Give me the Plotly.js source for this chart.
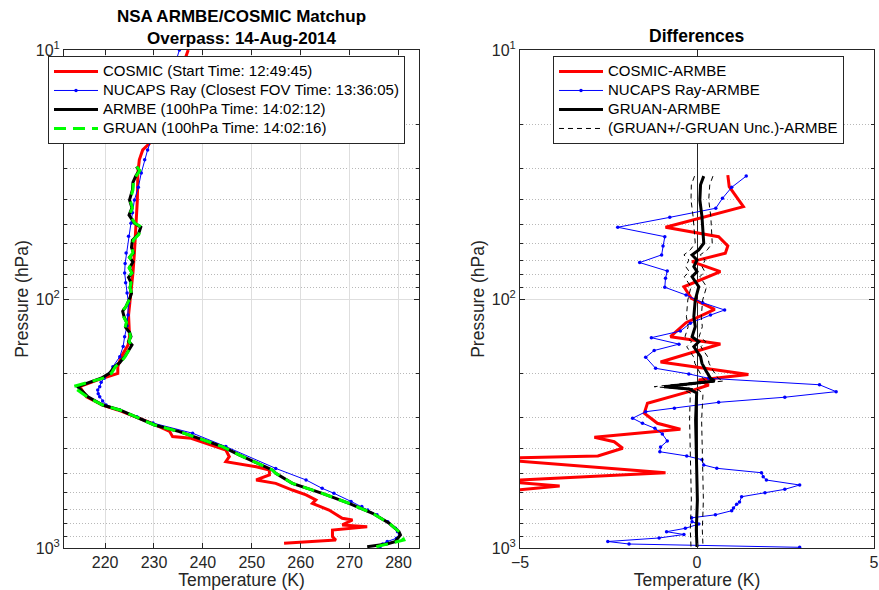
<!DOCTYPE html>
<html><head><meta charset="utf-8">
<script src="https://cdn.plot.ly/plotly-3.0.1.min.js"></script>
<style>html,body{margin:0;padding:0;background:#fff}#chart{width:879px;height:590px}</style>
</head><body><div id="chart"></div>
<script>
// ---------- Left panel: temperature profiles (K) vs pressure (hPa) ----------
const cosmicP = [10, 20.3, 23.0, 25.2, 27.6, 31.2, 40.0, 49.6, 65.3, 78.6, 94.5, 116, 141.7, 153, 170.5, 187, 198.8, 208, 225, 247, 266.6, 279, 315, 340, 357, 362.6, 404, 430, 450, 471.6, 486, 509, 533, 550, 585, 612, 641, 662, 704, 760, 772, 808, 821, 847, 901, 929, 957];
const cosmicT = [237.0, 231.5, 229.8, 227.7, 227.0, 226.7, 226.6, 226.4, 226.0, 225.7, 225.3, 224.8, 225.0, 224.7, 223.3, 222.6, 222.6, 219.5, 214.8, 216.2, 219.5, 222.6, 229.5, 233.2, 233.8, 237.6, 244.7, 245.4, 244.7, 250.9, 253.6, 253.6, 250.9, 254.9, 258.3, 261.1, 263.1, 262.4, 265.8, 268.5, 270.6, 268.5, 273.6, 266.5, 266.5, 267.2, 256.6];

const nucapsP = [10, 20.3, 23.0, 25.2, 27.6, 31.2, 35.6, 40, 45, 49.6, 56, 65.3, 72, 78.6, 86, 94.5, 104, 116, 128, 141.7, 155, 170.5, 187, 198.8, 208, 216, 225, 232, 240, 247, 257, 266.6, 279, 297, 315, 346, 391.6, 479, 533, 576, 603, 650, 682, 704, 736, 784, 834, 860, 886, 914, 942, 964, 994];
const nucapsT = [235.2, 230.4, 229.4, 228.7, 228.1, 227.4, 226.8, 226.0, 225.6, 225.3, 224.8, 224.3, 224.1, 224.0, 224.2, 224.5, 224.8, 224.7, 224.5, 224.0, 223.7, 223.0, 221.6, 220.9, 219.8, 219.2, 218.9, 218.5, 218.6, 218.9, 219.5, 220.2, 223.0, 226.5, 229.8, 237.9, 244.7, 254.9, 261.1, 264.4, 266.8, 270.3, 272.5, 273.7, 275.6, 277.8, 279.4, 279.8, 280.2, 279.6, 277.7, 276.8, 276.2];

const armbeP = [29.4, 30.5, 32.0, 34.0, 36.5, 40.0, 43.0, 46.0, 49.6, 51.5, 55.0, 58.0, 62.0, 65.3, 68.0, 71.0, 75.0, 78.6, 82.0, 86.0, 90.0, 95.0, 100, 107, 112, 118, 124, 130, 136, 141.7, 148, 153, 160, 170.5, 180, 187, 198.8, 208, 225, 247, 266.6, 279, 320.6, 341, 391.6, 423, 486, 501, 550, 603, 662, 725.5, 795.6, 860, 886.6, 943, 964, 988];
const armbeT = [226.4, 227.0, 226.3, 225.7, 225.6, 225.0, 225.5, 224.9, 226.0, 227.3, 226.8, 225.6, 225.4, 225.8, 225.0, 225.7, 225.0, 225.5, 224.8, 225.3, 225.1, 225.4, 225.0, 224.3, 223.6, 223.9, 224.4, 224.2, 225.0, 225.3, 224.8, 225.5, 224.9, 224.0, 223.0, 221.9, 220.9, 219.2, 214.4, 216.5, 219.5, 223.0, 230.1, 235.2, 244.0, 247.4, 254.2, 254.9, 258.3, 264.4, 269.9, 274.7, 278.1, 280.1, 280.4, 279.3, 277.6, 273.6];

const gruanP = [29.4, 30.5, 32.0, 34.0, 36.5, 40.0, 43.0, 46.0, 49.6, 51.5, 55.0, 58.0, 62.0, 65.3, 68.0, 71.0, 75.0, 78.6, 82.0, 86.0, 90.0, 95.0, 100, 107, 112, 118, 124, 130, 136, 141.7, 148, 153, 160, 170.5, 180, 187, 198.8, 208, 225, 247, 266.6, 279, 320.6, 341, 391.6, 423, 486, 501, 550, 603, 662, 725.5, 795.6, 860, 886.6, 929, 1000];
const gruanT = [226.5, 227.1, 226.4, 225.8, 225.7, 225.1, 225.6, 225.0, 226.1, 227.5, 226.9, 225.8, 225.5, 225.7, 225.0, 225.6, 224.9, 225.5, 224.7, 225.3, 225.1, 225.4, 225.0, 224.3, 223.5, 223.8, 224.4, 224.1, 225.0, 225.2, 224.9, 225.4, 224.9, 224.1, 223.1, 222.1, 221.3, 219.6, 213.4, 216.3, 219.5, 223.0, 230.1, 235.2, 244.0, 247.4, 254.2, 254.9, 258.3, 264.4, 269.9, 274.7, 278.1, 280.1, 280.6, 281.1, 274.4];

// ---------- Right panel: differences (K) vs pressure (hPa) ----------
const dCosmicP = [31.8, 35.4, 42.6, 51.5, 56.2, 61.2, 65.5, 70.8, 77.7, 89.3, 99.4, 110, 124.5, 141.7, 151.6, 179, 201, 211.4, 221.5, 235.6, 262.4, 287.7, 315.6, 333.7, 359.3, 374.2, 397.7, 427, 437, 498.5, 538.3, 563.6, 612.6];
const dCosmicT = [0.87, 0.91, 1.31, -0.89, 0.61, 0.87, 0.80, -0.14, 0.66, -0.37, -0.16, 0.50, -0.31, -0.75, 0.66, -1.03, 1.45, 0.05, 0.33, -0.23, -1.40, -1.49, -1.12, -0.47, -2.90, -2.34, -2.10, -2.80, -6.0, -0.89, -5.6, -3.88, -6.5];

const dNucapsP = [32.1, 35.6, 39.4, 43.2, 47.0, 51.5, 56.2, 61.2, 66.5, 71.4, 77.2, 82.6, 89.7, 96.4, 103.5, 110.7, 116, 125, 134.5, 143, 151.8, 161, 171.4, 189.8, 200, 208.2, 221, 235.6, 248, 260, 274.8, 283.6, 301.3, 315.6, 330.6, 348.4, 371.8, 393, 410.6, 427, 441.9, 464.3, 478.6, 498.5, 517, 533.3, 558.5, 581.2, 599.8, 622.3, 653.6, 667.6, 691, 708.5, 735.8, 756.3, 784.2, 801, 833.6, 860, 882.6, 911.5, 941.7, 963.9, 993.6];
const dNucapsT = [1.39, 0.98, 0.72, 0.53, -0.77, -2.24, -0.91, -0.96, -1.00, -1.62, -0.84, -0.89, -0.91, -0.31, 0.16, 0.78, 0.38, -0.19, -0.47, -1.29, -0.51, -1.21, -1.45, -1.17, -0.23, 0.33, 3.46, 3.93, 2.48, 0.61, -0.64, -1.45, -1.82, -1.54, -1.19, -0.98, -0.84, -1.03, -1.05, -0.29, 0.14, 0.19, 0.56, 1.82, 1.87, 1.96, 2.90, 2.48, 1.92, 1.26, 1.20, 1.12, 1.03, 0.98, 0.52, -0.15, -0.14, 0.05, -0.33, -0.86, -0.37, -1.07, -2.52, -1.92, 2.90];

const dGruanP = [32.1, 34.8, 40, 46.7, 59.7, 63.5, 66.5, 69.7, 74.1, 77.6, 81.4, 89.3, 100.9, 117.8, 129.2, 141.7, 148.4, 155.5, 170.5, 181.3, 192.8, 208.2, 213.4, 225, 229.8, 238.5, 306.2, 443.2, 641.5, 847, 991];
const dGruanT = [0.19, 0.10, 0.08, 0.14, 0.19, 0.05, -0.14, 0.0, -0.09, 0.0, -0.14, 0.05, -0.05, -0.09, -0.05, -0.14, 0.05, -0.09, 0.10, 0.14, 0.24, 0.38, 0.50, -0.93, -0.23, -0.01, -0.04, -0.01, 0.01, -0.02, 0.0];
const gruanUnc = [0.26, 0.26, 0.25, 0.25, 0.24, 0.24, 0.23, 0.23, 0.23, 0.22, 0.22, 0.22, 0.21, 0.21, 0.20, 0.20, 0.20, 0.20, 0.20, 0.20, 0.20, 0.22, 0.25, 0.28, 0.22, 0.18, 0.17, 0.17, 0.17, 0.17, 0.17];

// ---------- Labels ----------
const leftNames = ['COSMIC (Start Time: 12:49:45)', 'NUCAPS Ray (Closest FOV Time: 13:36:05)', 'ARMBE (100hPa Time: 14:02:12)', 'GRUAN (100hPa Time: 14:02:16)'];
const rightNames = ['COSMIC-ARMBE', 'NUCAPS Ray-ARMBE', 'GRUAN-ARMBE', '(GRUAN+/-GRUAN Unc.)-ARMBE'];
const pTickVals = [10, 100, 1000];
const pTickText = ['10<sup>1</sup>', '10<sup>2</sup>', '10<sup>3</sup>'];
const pMinorVals = [20, 30, 40, 50, 60, 70, 80, 90, 200, 300, 400, 500, 600, 700, 800, 900];
const tTickVals = [220, 230, 240, 250, 260, 270, 280];
const dTickVals = [-5, 0, 5];

const FONT = '"Liberation Sans", Arial, Helvetica, sans-serif';
const AX = '#262626';
const big = s => '<span style="font-size:15px">' + s + '</span>';

const gruanUpper = dGruanT.map((v, i) => v + gruanUnc[i]);
const gruanLower = dGruanT.map((v, i) => v - gruanUnc[i]);

const traces = [
  {x: cosmicT, y: cosmicP, xaxis: 'x', yaxis: 'y', mode: 'lines', line: {color: '#ff0000', width: 3}, name: big(leftNames[0]), legend: 'legend'},
  {x: nucapsT, y: nucapsP, xaxis: 'x', yaxis: 'y', mode: 'lines+markers', line: {color: '#0000ff', width: 1}, marker: {color: '#0000ff', size: 3.5}, name: big(leftNames[1]), legend: 'legend'},
  {x: armbeT, y: armbeP, xaxis: 'x', yaxis: 'y', mode: 'lines', line: {color: '#000000', width: 3}, name: big(leftNames[2]), legend: 'legend'},
  {x: gruanT, y: gruanP, xaxis: 'x', yaxis: 'y', mode: 'lines', line: {color: '#00ff00', width: 3, dash: '12px,7px'}, name: big(leftNames[3]), legend: 'legend'},

  {x: dCosmicT, y: dCosmicP, xaxis: 'x2', yaxis: 'y2', mode: 'lines', line: {color: '#ff0000', width: 3}, name: big(rightNames[0]), legend: 'legend2'},
  {x: dNucapsT, y: dNucapsP, xaxis: 'x2', yaxis: 'y2', mode: 'lines+markers', line: {color: '#0000ff', width: 1}, marker: {color: '#0000ff', size: 3.5}, name: big(rightNames[1]), legend: 'legend2'},
  {x: dGruanT, y: dGruanP, xaxis: 'x2', yaxis: 'y2', mode: 'lines', line: {color: '#000000', width: 3}, name: big(rightNames[2]), legend: 'legend2'},
  {x: gruanUpper, y: dGruanP, xaxis: 'x2', yaxis: 'y2', mode: 'lines', line: {color: '#000000', width: 1, dash: '5px,4px'}, name: big(rightNames[3]), legend: 'legend2'},
  {x: gruanLower, y: dGruanP, xaxis: 'x2', yaxis: 'y2', mode: 'lines', line: {color: '#000000', width: 1, dash: '5px,4px'}, name: big(rightNames[3]), legend: 'legend2', showlegend: false}
];

function yAxis(anchor) {
  return {
    anchor: anchor, type: 'log', range: [3, 1], domain: [0, 1],
    tickmode: 'array', tickvals: pTickVals, ticktext: pTickText,
    ticks: 'inside', ticklen: 5, tickcolor: AX, tickwidth: 1,
    showline: true, linecolor: AX, linewidth: 1, mirror: 'allticks',
    showgrid: true, gridcolor: '#dedede', gridwidth: 1, zeroline: false,
    minor: {tickmode: 'array', tickvals: pMinorVals, ticks: 'inside', ticklen: 3, tickcolor: AX,
            showgrid: true, gridcolor: '#b8b8b8', griddash: '1px,2px', gridwidth: 1},
    tickfont: {size: 16, color: AX, family: FONT},
    title: {text: 'Pressure (hPa)', font: {size: 17.5, color: AX, family: FONT}, standoff: 2}
  };
}

const legendBase = {
  xanchor: 'left', yanchor: 'top', bgcolor: '#ffffff', bordercolor: AX, borderwidth: 1,
  font: {size: 11, color: '#000000', family: FONT}, tracegroupgap: 0, orientation: 'v', itemwidth: 44
};

const layout = {
  width: 879, height: 590,
  margin: {l: 64, r: 5, t: 50, b: 42, pad: 0},
  paper_bgcolor: '#ffffff', plot_bgcolor: '#ffffff',
  font: {family: FONT, color: AX, size: 16},
  showlegend: true,
  xaxis: {
    anchor: 'y', domain: [0, 0.4383], range: [211.6, 284.2],
    tickmode: 'array', tickvals: tTickVals,
    ticks: 'inside', ticklen: 5, tickcolor: AX, showline: true, linecolor: AX, linewidth: 1, mirror: 'allticks',
    showgrid: true, gridcolor: '#dedede', gridwidth: 1, zeroline: false,
    tickfont: {size: 16, color: AX, family: FONT},
    title: {text: 'Temperature (K)', font: {size: 17.5, color: AX, family: FONT}, standoff: 2}
  },
  yaxis: yAxis('x'),
  xaxis2: {
    anchor: 'y2', domain: [0.563, 1], range: [-5, 5],
    tickmode: 'array', tickvals: dTickVals,
    ticks: 'inside', ticklen: 5, tickcolor: AX, showline: true, linecolor: AX, linewidth: 1, mirror: 'allticks',
    showgrid: false, zeroline: true, zerolinecolor: AX, zerolinewidth: 1,
    tickfont: {size: 16, color: AX, family: FONT}, ticklabeloverflow: 'allow',
    title: {text: 'Temperature (K)', font: {size: 17.5, color: AX, family: FONT}, standoff: 2}
  },
  yaxis2: yAxis('x2'),
  legend: Object.assign({x: -0.01975, y: 0.988}, legendBase),
  legend2: Object.assign({x: 0.6037, y: 0.988}, legendBase),
  annotations: [
    {xref: 'paper', yref: 'paper', x: 0.2194, y: 1 + (50 - 27) / 498, xanchor: 'center', yanchor: 'middle', showarrow: false,
     text: '<b>NSA ARMBE/COSMIC Matchup</b><br><b>Overpass: 14-Aug-2014</b>', font: {size: 17, color: '#000000', family: FONT}},
    {xref: 'paper', yref: 'paper', x: 0.7815, y: 1 + (50 - 36) / 498, xanchor: 'center', yanchor: 'middle', showarrow: false,
     text: '<b>Differences</b>', font: {size: 17.5, color: '#000000', family: FONT}}
  ]
};

Plotly.newPlot('chart', traces, layout, {displayModeBar: false, staticPlot: true});
</script>
</body></html>
